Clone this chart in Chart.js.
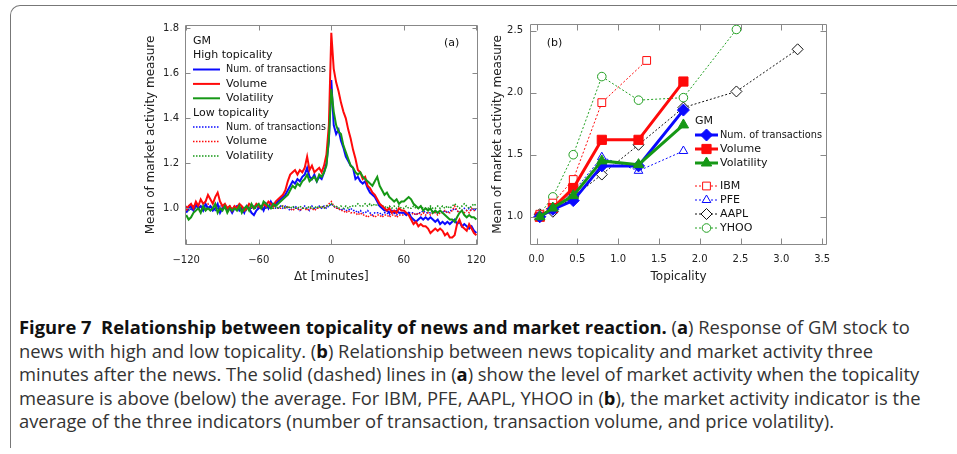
<!DOCTYPE html>
<html><head><meta charset="utf-8">
<script src="https://cdn.jsdelivr.net/npm/chart.js@4"></script>
<style>
html,body{margin:0;padding:0;background:#fff;width:957px;height:454px;overflow:hidden;position:relative;}
#frame{position:absolute;left:10px;top:5px;width:970px;height:442px;border-top:1.5px solid #777;border-left:1.5px solid #777;border-top-left-radius:10px;}
#ca{position:absolute;left:0;top:0;}
#cb{position:absolute;left:490px;top:0;}
#cap{position:absolute;left:19px;top:315px;font-family:'Open Sans',sans-serif;font-size:16.5px;line-height:23.6px;color:#333;white-space:nowrap;}
#cap b{color:#111;font-weight:700;}
</style></head><body>
<div id="frame"></div>
<canvas id="ca" width="495" height="290"></canvas>
<canvas id="cb" width="350" height="290"></canvas>
<div id="cap">
<div><b>Figure 7&nbsp; Relationship between topicality of news and market reaction.</b> (<b>a</b>) Response of GM stock to</div>
<div>news with high and low topicality. (<b>b</b>) Relationship between news topicality and market activity three</div>
<div><span id="l3">minutes after the news. The solid (dashed) lines in (<b>a</b>) show the level of market activity when the topicality</span></div>
<div>measure is above (below) the average. For IBM, PFE, AAPL, YHOO in (<b>b</b>), the market activity indicator is the</div>
<div>average of the three indicators (number of transaction, transaction volume, and price volatility).</div>
</div>
<script>
// ---------- Panel (a) data ----------
const minutes = [-120,-118,-116,-114,-112,-110,-108,-106,-104,-102,
 -100,-98,-96,-94,-92,-90,-88,-86,-84,-82,
 -80,-78,-76,-74,-72,-70,-68,-66,-64,-62,
 -60,-58,-56,-54,-52,-50,-48,-46,-44,-42,
 -40,-38,-36,-34,-32,-30,-28,-26,-24,-22,
 -20,-18,-16,-14,-12,-10,-8,-6,-4,-2,
 0,2,4,6,8,10,12,14,16,18,
 20,22,24,26,28,30,32,34,36,38,
 40,42,44,46,48,50,52,54,56,58,
 60,62,64,66,68,70,72,74,76,78,
 80,82,84,86,88,90,92,94,96,98,
 100,102,104,106,108,110,112,114,116,118,
 120];
const highNum = [0.98,1.00,1.01,0.99,1.02,1.00,1.01,0.99,1.02,1.00,
 1.01,0.99,1.00,1.02,0.98,1.00,1.01,0.99,1.00,0.98,
 1.00,1.01,0.99,1.00,0.98,1.01,1.00,0.98,0.97,0.99,
 1.00,1.01,0.99,1.02,1.00,1.03,1.01,1.02,1.03,1.04,
 1.05,1.06,1.08,1.10,1.12,1.11,1.13,1.12,1.14,1.15,
 1.18,1.14,1.13,1.15,1.12,1.14,1.13,1.16,1.20,1.30,
 1.57,1.37,1.33,1.35,1.30,1.27,1.23,1.21,1.19,1.18,
 1.13,1.14,1.12,1.11,1.12,1.09,1.07,1.06,1.05,1.03,
 1.01,1.00,0.99,0.99,0.98,0.99,0.98,0.99,0.98,0.98,
 0.98,0.97,0.98,0.96,0.95,0.94,0.95,0.96,0.95,0.96,
 0.95,0.96,0.95,0.94,0.95,0.93,0.94,0.93,0.94,0.93,
 0.94,0.95,0.93,0.94,0.92,0.93,0.92,0.91,0.92,0.90,
 0.89];
const highVol = [0.99,1.01,1.02,1.00,1.03,1.01,1.04,1.02,1.03,1.06,
 1.04,1.02,1.05,1.07,1.03,1.01,1.02,1.00,1.01,0.99,
 1.01,1.00,1.02,1.01,0.99,1.00,1.02,1.01,1.00,1.02,
 1.01,1.00,1.02,1.01,1.03,1.02,1.01,1.03,1.04,1.05,
 1.06,1.08,1.12,1.15,1.16,1.17,1.15,1.17,1.16,1.18,
 1.23,1.17,1.19,1.16,1.17,1.18,1.16,1.19,1.24,1.37,
 1.78,1.62,1.56,1.52,1.47,1.43,1.40,1.35,1.31,1.26,
 1.22,1.17,1.16,1.13,1.14,1.10,1.09,1.07,1.06,1.04,
 1.02,1.01,1.00,0.99,1.00,0.98,0.99,0.98,1.00,0.99,
 0.99,0.98,0.97,0.95,0.93,0.94,0.92,0.93,0.92,0.92,
 0.91,0.89,0.90,0.91,0.90,0.91,0.90,0.88,0.89,0.87,
 0.87,0.88,0.93,0.95,0.92,0.91,0.90,0.93,0.91,0.89,
 0.88];
const highVola = [0.97,0.95,0.96,0.98,0.99,1.00,0.98,1.01,0.99,1.00,
 0.99,1.00,1.02,0.98,1.00,0.99,1.01,0.98,1.00,0.99,
 1.00,0.99,1.01,0.98,1.00,1.01,0.99,1.02,1.00,1.01,
 1.02,1.00,1.03,1.02,1.01,1.00,1.02,1.01,1.02,1.03,
 1.04,1.05,1.06,1.08,1.10,1.09,1.11,1.10,1.12,1.13,
 1.15,1.12,1.13,1.14,1.12,1.15,1.14,1.16,1.19,1.31,
 1.53,1.43,1.37,1.34,1.33,1.28,1.25,1.22,1.19,1.18,
 1.16,1.15,1.16,1.14,1.13,1.12,1.11,1.10,1.12,1.14,
 1.10,1.08,1.06,1.07,1.05,1.04,1.03,1.04,1.02,1.03,
 1.03,1.04,1.05,1.04,1.02,1.01,1.00,1.01,0.99,1.00,
 0.99,1.00,0.98,0.99,0.98,0.99,0.98,0.97,0.96,0.95,
 0.95,0.94,0.96,0.98,0.99,0.97,0.96,0.97,0.96,0.96,
 0.95];
const lowNum = [1.00,1.01,0.99,1.00,1.01,1.00,0.99,1.01,1.00,1.00,
 1.01,1.00,0.99,1.00,1.01,1.00,1.00,0.99,1.01,1.00,
 1.00,1.01,1.00,0.99,1.00,1.01,1.00,1.00,1.01,1.00,
 1.01,1.00,1.01,1.00,1.01,1.00,1.01,1.00,1.00,1.01,
 1.00,1.01,1.00,0.99,1.00,1.01,1.00,0.99,1.00,1.01,
 1.00,0.99,1.01,1.00,1.00,1.01,1.00,1.01,1.00,1.01,
 1.02,1.01,1.00,1.00,0.99,1.00,0.99,0.99,1.00,0.99,
 0.99,0.98,0.99,0.98,0.98,0.99,0.98,0.97,0.98,0.98,
 0.98,0.97,0.98,0.98,0.97,0.98,0.98,0.97,0.98,0.98,
 0.98,0.97,0.98,0.98,0.98,0.97,0.98,0.98,0.99,0.98,
 0.98,0.98,0.99,0.98,0.98,0.99,0.98,0.99,0.98,0.99,
 0.99,1.00,0.99,0.98,0.99,1.00,0.99,1.00,0.99,1.00,
 0.99];
const lowVol = [1.01,1.00,1.01,1.00,1.02,1.00,1.01,1.00,1.01,1.02,
 1.00,1.01,1.00,1.01,1.00,1.01,1.01,1.00,1.01,1.00,
 1.01,1.00,1.00,1.01,1.00,1.00,1.01,1.00,1.01,1.01,
 1.00,1.01,1.00,1.01,1.00,1.01,1.00,1.01,1.00,1.00,
 1.01,1.00,1.01,1.00,0.99,1.00,1.00,0.99,1.00,1.00,
 0.99,1.00,1.00,0.99,1.00,1.00,1.01,1.00,1.01,1.02,
 1.03,1.01,1.00,1.00,0.99,0.99,0.98,0.99,0.98,0.98,
 0.98,0.97,0.98,0.97,0.97,0.96,0.97,0.97,0.96,0.97,
 0.97,0.96,0.97,0.97,0.96,0.97,0.97,0.96,0.97,0.97,
 0.97,0.98,0.97,0.97,0.98,0.97,0.98,0.97,0.98,0.97,
 0.98,0.97,0.98,0.98,0.97,0.98,0.98,0.99,0.98,0.98,
 0.99,1.01,0.99,0.98,0.99,0.98,0.99,0.98,1.00,0.99,
 0.99];
const lowVola = [1.00,0.99,1.00,1.01,1.00,1.00,1.01,0.99,1.00,1.00,
 1.00,1.01,1.00,1.00,0.99,1.00,1.00,1.01,1.00,1.00,
 1.00,1.00,1.01,1.00,1.00,0.99,1.00,1.01,1.00,1.00,
 1.00,1.01,1.00,1.00,1.01,1.00,1.00,1.01,1.00,1.01,
 1.01,1.00,1.01,1.00,1.01,1.00,1.00,1.01,1.00,1.00,
 1.00,1.01,1.00,1.00,1.01,1.00,1.01,1.00,1.01,1.01,
 1.02,1.01,1.01,1.00,1.01,1.00,1.01,1.00,1.01,1.01,
 1.01,1.02,1.01,1.01,1.02,1.01,1.02,1.01,1.02,1.01,
 1.02,1.01,1.01,1.00,1.01,1.00,1.01,1.00,1.01,1.00,
 1.00,1.01,1.00,1.00,1.01,1.00,1.00,1.01,1.00,1.00,
 1.00,1.01,1.00,1.00,1.01,1.00,1.01,1.00,1.01,1.00,
 1.01,1.02,1.01,1.00,1.01,1.02,1.01,1.00,1.01,1.02,
 1.01];
const xTicksA = [-120,-60,0,60,120];
const yTicksA = [1.0,1.2,1.4,1.6,1.8];

// ---------- Panel (b) data ----------
const topGM = [0.04,0.2,0.45,0.8,1.25,1.8];
const gmNum = [1.00,1.06,1.13,1.41,1.41,1.86];
const gmVol = [1.00,1.07,1.23,1.62,1.62,2.09];
const gmVola = [1.00,1.07,1.17,1.45,1.42,1.74];
const topIBM = [0.04,0.2,0.45,0.8,1.35];
const ibm = [1.02,1.11,1.30,1.92,2.26];
const topPFE = [0.04,0.2,0.45,0.8,1.25,1.8];
const pfe = [1.00,1.05,1.20,1.48,1.37,1.53];
const topAAPL = [0.04,0.2,0.45,0.8,1.25,1.8,2.45,3.2];
const aapl = [1.02,1.04,1.16,1.34,1.58,1.88,2.01,2.35];
const topYHOO = [0.04,0.2,0.45,0.8,1.25,1.8,2.45];
const yhoo = [1.02,1.16,1.50,2.13,1.94,1.96,2.51];
const xTicksB = [0.0,0.5,1.0,1.5,2.0,2.5,3.0,3.5];
const yTicksB = [1.0,1.5,2.0,2.5];

// ---------- styling ----------
const BLUE='#0a0aff', RED='#ff0a0a', GREEN='#169816', BLACK='#111';
const TICK_FONT={family:'DejaVu Sans',size:10};
const TITLE_FONT={family:'DejaVu Sans',size:12};
const minus = v => v<0 ? '\u2212'+Math.abs(v) : String(v);

const frameTicks = {
  id:'frameTicks',
  afterDatasetsDraw(chart, args, o){
    const {ctx, chartArea:a} = chart;
    const xs = chart.scales.x, ys = chart.scales.y;
    const L=Math.round(a.left)+0.5, R=Math.round(a.right)-0.5, T=Math.round(a.top)+0.5, B=Math.round(a.bottom)-0.5;
    ctx.save();
    ctx.strokeStyle=o.color; ctx.lineWidth=1;
    ctx.beginPath();
    ctx.rect(L,T,R-L,B-T);
    xs.ticks.forEach(t=>{const p=Math.round(xs.getPixelForValue(t.value))+0.5; ctx.moveTo(p,B); ctx.lineTo(p,B-o.len); ctx.moveTo(p,T); ctx.lineTo(p,T+o.len);});
    ys.ticks.forEach(t=>{const p=Math.round(ys.getPixelForValue(t.value))+0.5; ctx.moveTo(L,p); ctx.lineTo(L+o.len,p); ctx.moveTo(R,p); ctx.lineTo(R-o.len,p);});
    ctx.stroke(); ctx.restore();
  }
};

function marker(ctx, ds, x, y){
  const opts={pointStyle:ds.pointStyle, radius:ds.pointRadius, borderWidth:ds.pointBorderWidth, rotation:0};
  ctx.fillStyle=ds.pointBackgroundColor; ctx.strokeStyle=ds.pointBorderColor; ctx.lineWidth=ds.pointBorderWidth;
  Chart.helpers.drawPoint(ctx, opts, x, y);
}

const figLegend = {
  id:'figLegend',
  afterDraw(chart, args, o){
    const {ctx, chartArea:a} = chart;
    ctx.save();
    ctx.textBaseline='middle'; ctx.font=o.font;
    const x0=a.left+o.dx;
    o.rows.forEach(r=>{
      const y=a.top+r.dy;
      if(r.ds===undefined){ ctx.fillStyle='#111'; ctx.fillText(r.text,x0,y); return; }
      const ds=chart.data.datasets[r.ds];
      ctx.save();
      ctx.strokeStyle=ds.borderColor; ctx.lineWidth=ds.borderWidth; ctx.setLineDash(ds.borderDash||[]);
      ctx.beginPath(); ctx.moveTo(x0,y); ctx.lineTo(x0+o.lineLen,y); ctx.stroke();
      ctx.setLineDash([]);
      if(ds.pointRadius>0) marker(ctx, ds, x0+o.lineLen/2, y);
      ctx.restore();
      ctx.fillStyle='#111';
      ctx.fillText(ds.label, x0+o.textDx, y, o.maxW);
    });
    if(o.tag){
      ctx.fillStyle='#111'; ctx.textAlign='center'; ctx.font=o.tag.font;
      ctx.fillText(o.tag.text, (o.tag.side==='right'?a.right:a.left)+o.tag.dx, a.top+o.tag.dy);
    }
    ctx.restore();
  }
};

function fixedTicks(arr){ return s=>{ s.ticks = arr.map(v=>({value:v})); }; }
const noGrid = {display:false, drawTicks:false, tickLength:0};

// ---------- Chart (a) ----------
function seriesA(label, vals, color, dotted, order){
  return {label, data:minutes.map((m,i)=>({x:m,y:vals[i]})), borderColor:color,
    borderWidth:dotted?1.5:2, borderDash:dotted?[1.5,1.5]:[], pointRadius:0, tension:0, order};
}
new Chart(document.getElementById('ca'),{
  type:'line',
  data:{datasets:[
    seriesA('Num. of transactions', highNum, BLUE, false, 3),
    seriesA('Volume', highVol, RED, false, 2),
    seriesA('Volatility', highVola, GREEN, false, 1),
    seriesA('Num. of transactions', lowNum, BLUE, true, 6),
    seriesA('Volume', lowVol, RED, true, 5),
    seriesA('Volatility', lowVola, GREEN, true, 4)
  ]},
  options:{
    responsive:false, animation:false, events:[],
    layout:{padding:{left:140,top:25,right:15,bottom:0}},
    plugins:{legend:{display:false}, tooltip:{enabled:false},
      frameTicks:{color:'#888',len:5},
      figLegend:{font:'11px "DejaVu Sans"', dx:8, lineLen:27, textDx:33, maxW:100,
        rows:[{text:'GM',dy:15.7},{text:'High topicality',dy:30.1},{ds:0,dy:44.5},{ds:1,dy:58.9},{ds:2,dy:73.3},
              {text:'Low topicality',dy:87.7},{ds:3,dy:102.1},{ds:4,dy:116.5},{ds:5,dy:130.9}],
        tag:{text:'(a)',side:'right',dx:-26,dy:18,font:'11px "DejaVu Sans"'}}},
    scales:{
      x:{type:'linear',min:-121,max:121,afterBuildTicks:fixedTicks(xTicksA),afterFit:s=>{s.height=45;},
        grid:noGrid,border:{display:false},
        ticks:{padding:9,font:TICK_FONT,color:'#222',maxRotation:0,callback:v=>minus(v)},
        title:{display:true,text:'\u0394t [minutes]',font:TITLE_FONT,color:'#222',padding:{top:0,bottom:6}}},
      y:{type:'linear',min:0.837,max:1.815,afterBuildTicks:fixedTicks(yTicksA),afterFit:s=>{s.width=45;},
        grid:noGrid,border:{display:false},
        ticks:{padding:6,font:TICK_FONT,color:'#222',callback:v=>Number(v).toFixed(1)},
        title:{display:true,text:'Mean of market activity measure',font:TITLE_FONT,color:'#222',padding:{top:4,bottom:0}}}
    }
  },
  plugins:[frameTicks, figLegend]
});

// ---------- Chart (b) ----------
function seriesB(label, xs, ys, color, opt){
  return Object.assign({label, data:xs.map((x,i)=>({x, y:ys[i]})), borderColor:color, tension:0}, opt);
}
const gmOpt = (style, r, color, order)=>({borderWidth:3, borderDash:[], pointStyle:style, pointRadius:r,
  pointBackgroundColor:color, pointBorderColor:color, pointBorderWidth:1, order});
const stOpt = (style, r, color)=>({borderWidth:1, borderDash:[2,2], pointStyle:style, pointRadius:r,
  pointBackgroundColor:'#fff', pointBorderColor:color, pointBorderWidth:1, order:5});
new Chart(document.getElementById('cb'),{
  type:'line',
  data:{datasets:[
    seriesB('Num. of transactions', topGM, gmNum, BLUE, gmOpt('rectRot',6,BLUE,2)),
    seriesB('Volume', topGM, gmVol, RED, gmOpt('rect',6.5,RED,3)),
    seriesB('Volatility', topGM, gmVola, GREEN, gmOpt('triangle',6,GREEN,1)),
    seriesB('IBM', topIBM, ibm, RED, stOpt('rect',5.5,RED)),
    seriesB('PFE', topPFE, pfe, BLUE, stOpt('triangle',5,BLUE)),
    seriesB('AAPL', topAAPL, aapl, BLACK, stOpt('rectRot',5.5,BLACK)),
    seriesB('YHOO', topYHOO, yhoo, '#22a022', stOpt('circle',4.3,'#22a022'))
  ]},
  options:{
    responsive:false, animation:false, events:[],
    layout:{padding:{left:0,top:24,right:13,bottom:0}},
    plugins:{legend:{display:false}, tooltip:{enabled:false},
      frameTicks:{color:'#888',len:6},
      figLegend:{font:'11px "DejaVu Sans"', dx:165, lineLen:23, textDx:25, maxW:102,
        rows:[{text:'GM',dy:97},{ds:0,dy:111},{ds:1,dy:125},{ds:2,dy:139},
              {ds:3,dy:162},{ds:4,dy:176},{ds:5,dy:190},{ds:6,dy:204}],
        tag:{text:'(b)',side:'left',dx:24.5,dy:19,font:'11px "DejaVu Sans"'}}},
    scales:{
      x:{type:'linear',min:-0.08,max:3.56,afterBuildTicks:fixedTicks(xTicksB),afterFit:s=>{s.height=45;},
        grid:noGrid,border:{display:false},
        ticks:{padding:8,font:TICK_FONT,color:'#222',maxRotation:0,callback:v=>Number(v).toFixed(1)},
        title:{display:true,text:'Topicality',font:TITLE_FONT,color:'#222',padding:{top:0,bottom:6}}},
      y:{type:'linear',min:0.772,max:2.554,afterBuildTicks:fixedTicks(yTicksB),afterFit:s=>{s.width=40;},
        grid:noGrid,border:{display:false},
        ticks:{padding:7,font:TICK_FONT,color:'#222',callback:v=>Number(v).toFixed(1)},
        title:{display:true,text:'Mean of market activity measure',font:TITLE_FONT,color:'#222',padding:{top:1,bottom:0}}}
    }
  },
  plugins:[frameTicks, figLegend]
});

// fit caption so that its longest line spans the same width as in the figure
(function(){
  const cap=document.getElementById('cap'), l3=document.getElementById('l3');
  const w=l3.getBoundingClientRect().width;
  const fs=16.5*901/w;
  cap.style.fontSize=fs.toFixed(2)+'px';
})();
</script>
</body></html>
